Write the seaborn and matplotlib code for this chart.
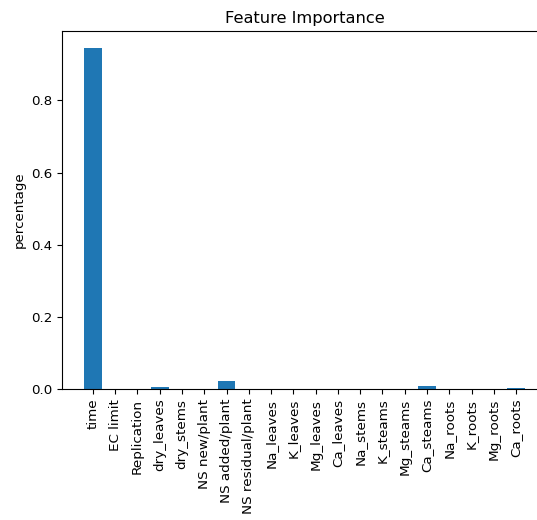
import matplotlib
matplotlib.use("Agg")
import matplotlib.pyplot as plt
import seaborn as sns
import pandas as pd

features = ["time", "EC limit", "Replication", "dry_leaves", "dry_stems",
            "NS new/plant", "NS added/plant", "NS residual/plant", "Na_leaves",
            "K_leaves", "Mg_leaves", "Ca_leaves", "Na_stems", "K_steams",
            "Mg_steams", "Ca_steams", "Na_roots", "K_roots", "Mg_roots", "Ca_roots"]
importance = [0.945, 0.0, 0.0, 0.005, 0.0, 0.0, 0.021, 0.0, 0.0, 0.0,
              0.0, 0.0, 0.0, 0.0, 0.0, 0.008, 0.0, 0.0, 0.0, 0.002]

df = pd.DataFrame({"feature": features, "importance": importance})

fig = plt.figure(figsize=(5.37, 5.2), dpi=100)
ax = fig.add_axes([62/537, 1 - 389/520, (547 - 62)/537, (389 - 31)/520])
sns.barplot(data=df, x="feature", y="importance", color="#1f77b4",
            saturation=1, width=0.8, ax=ax)
ax.set_xlim(-1.39, 20.39)
ax.set_ylim(0, 0.945 * 1.05)
ax.spines["right"].set_visible(False)
ax.set_title("Feature Importance", fontsize=11.7)
ax.set_xlabel("")
ax.set_ylabel("percentage", fontsize=9.6)
ax.tick_params(axis="x", labelrotation=90, labelsize=9.7)
ax.tick_params(axis="y", labelsize=9.6)
fig.savefig("out.png", dpi=100)
